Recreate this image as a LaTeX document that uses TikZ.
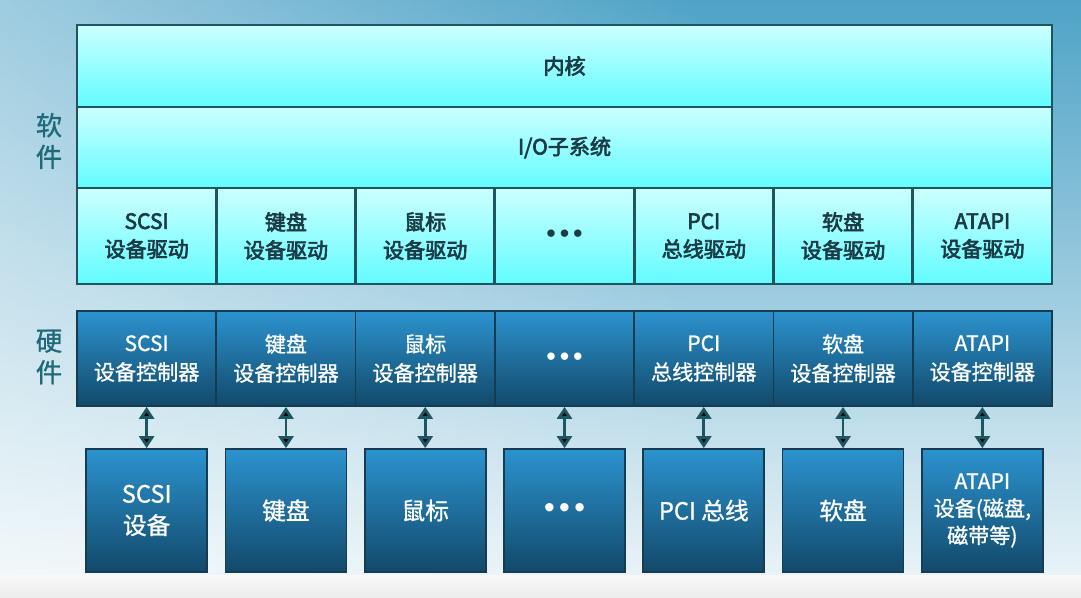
\documentclass[tikz,border=0pt]{standalone}
\usepackage{fontspec}
\setmainfont{Noto Sans CJK SC}
\newfontfamily\heavycjk{Noto Sans CJK SC}[FakeBold=3]
\newfontfamily\medcjk{Noto Sans CJK SC}[FakeBold=1]
\newfontfamily\dotfont{DejaVu Sans}
\usetikzlibrary{positioning,arrows.meta,fadings}

\definecolor{bgtop}{HTML}{4FA3C7}
\definecolor{bgmid}{HTML}{A9D3E3}
\definecolor{bgbot}{HTML}{EEF6F9}
\definecolor{softtop}{HTML}{CCFFFF}
\definecolor{softbot}{HTML}{62FCFF}
\definecolor{softline}{HTML}{1E5560}
\definecolor{softtext}{HTML}{1B3C46}
\definecolor{hardtop}{HTML}{2C93CF}
\definecolor{hardbot}{HTML}{12496A}
\definecolor{hardline}{HTML}{163C52}
\definecolor{linkcol}{HTML}{1C5662}
\definecolor{sidetext}{HTML}{1F6A7A}

\newcommand{\moredots}{{\dotfont\bfseries •••}}

\begin{document}
\begin{tikzpicture}[node distance=0pt,outer sep=0pt,
    soft/.style={draw=softline,line width=1.6pt,top color=softtop,bottom color=softbot,
                 text=softtext,align=center,inner sep=0pt,
                 font=\heavycjk\fontsize{12}{16}\selectfont},
    layer/.style={soft,minimum width=19.5cm},
    driver/.style={soft,minimum width=2.7857cm,minimum height=1.92cm},
    hard/.style={draw=hardline,line width=1pt,top color=hardtop,bottom color=hardbot,
                 text=white,align=center,inner sep=0pt},
    ctrl/.style={hard,minimum width=2.7857cm,minimum height=1.9cm,
                 font=\medcjk\fontsize{12}{16.5}\selectfont},
    device/.style={hard,minimum width=2.42cm,minimum height=2.46cm,
                   font=\medcjk\fontsize{13.5}{18}\selectfont},
    side/.style={text=sidetext,align=center,font=\medcjk\fontsize{15}{18}\selectfont},
    link/.style={<->,>={Triangle[width=0.3cm,length=0.24cm]},line width=1.6pt,
                 draw=linkcol,shorten >=0.5pt,shorten <=0.5pt}]
    % background
    \shade[top color=bgtop,middle color=bgmid,bottom color=bgbot] (0,0) rectangle (21.62,11.94);
    \fill[white,opacity=0.45,path fading=east] (0,0) rectangle (14,11.94);
    \shade[top color=white!95!gray,bottom color=white!85!gray] (0,0) rectangle (21.62,0.44);
    \useasboundingbox (0,0) rectangle (21.62,11.94);

    % software
    \node[layer,minimum height=1.64cm] (kernel) at (11.29,10.62) {内核};
    \node[layer,minimum height=1.62cm] (iosys)  [below=of kernel]  {I/O子系统};
    \node[driver] (drv1) [below right=0pt and 0pt of iosys.south west] {SCSI\\设备驱动};
    \node[driver] (drv2) [right=of drv1] {键盘\\设备驱动};
    \node[driver] (drv3) [right=of drv2] {鼠标\\设备驱动};
    \node[driver] (drv4) [right=of drv3] {\moredots};
    \node[driver] (drv5) [right=of drv4] {PCI\\总线驱动};
    \node[driver] (drv6) [right=of drv5] {软盘\\设备驱动};
    \node[driver] (drv7) [right=of drv6] {ATAPI\\设备驱动};

    % hardware
    \node[ctrl] (ctl1) [below=0.54cm of drv1] {SCSI\\设备控制器};
    \node[ctrl] (ctl2) [right=of ctl1] {键盘\\设备控制器};
    \node[ctrl] (ctl3) [right=of ctl2] {鼠标\\设备控制器};
    \node[ctrl] (ctl4) [right=of ctl3] {\moredots};
    \node[ctrl] (ctl5) [right=of ctl4] {PCI\\总线控制器};
    \node[ctrl] (ctl6) [right=of ctl5] {软盘\\设备控制器};
    \node[ctrl] (ctl7) [right=of ctl6] {ATAPI\\设备控制器};

    \node[device] (dev1) [below=0.86cm of ctl1] {SCSI\\设备};
    \node[device] (dev2) [below=0.86cm of ctl2] {键盘};
    \node[device] (dev3) [below=0.86cm of ctl3] {鼠标};
    \node[device] (dev4) [below=0.86cm of ctl4] {\moredots};
    \node[device] (dev5) [below=0.86cm of ctl5] {PCI 总线};
    \node[device] (dev6) [below=0.86cm of ctl6] {软盘};
    \node[device,font=\medcjk\fontsize{12}{15.5}\selectfont] (dev7) [below=0.86cm of ctl7]
        {ATAPI\\设备(磁盘,\\磁带等)};

    \path[link] (ctl1) edge (dev1)
                (ctl2) edge (dev2)
                (ctl3) edge (dev3)
                (ctl4) edge (dev4)
                (ctl5) edge (dev5)
                (ctl6) edge (dev6)
                (ctl7) edge (dev7);

    \node[side] (softlbl) at (0.98,9.12) {软\\件};
    \node[side] (hardlbl) at (0.98,4.80) {硬\\件};
\end{tikzpicture}
\end{document}
